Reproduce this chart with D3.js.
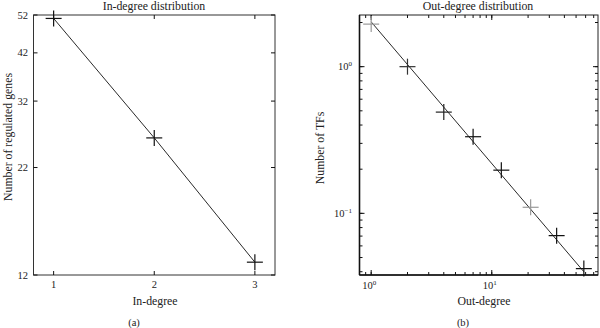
<!DOCTYPE html>
<html lang="en">
<head>
    <meta charset="UTF-8">
    <title>Degree distributions</title>
    <script src="https://d3js.org/d3.v7.min.js"></script>
    <style>
        body { margin: 0; background: #fff; }
        text { font-family: "Liberation Serif", "DejaVu Serif", serif; fill: #222; }
    </style>
</head>
<body>
</body>
<script>
    // (a) in-degree
    const inDegree = [1, 2, 3];
    const inGenes = [51, 26, 12.9];
    const inYTicks = [12, 22, 32, 42, 52];

    // (b) out-degree, log-log
    const outDegree = [1, 2, 4, 7, 12, 21, 34.5, 58];
    const outTFs = [1.95, 1.0, 0.49, 0.333, 0.197, 0.11, 0.0705, 0.042];
    const outColor = ["#999", "#333", "#222", "#111", "#111", "#999", "#111", "#111"];
    const fitX = [1, 58];
    const fitY = [2.02, 0.04];

    const W = 600, H = 328;
    const svg = d3.select("body").append("svg").attr("width", W).attr("height", H);

    function cross(g, x, y, col) {
        g.append("line").attr("x1", x - 8).attr("x2", x + 8).attr("y1", y).attr("y2", y)
            .attr("stroke", col).attr("stroke-width", 1.2);
        g.append("line").attr("x1", x).attr("x2", x).attr("y1", y - 8).attr("y2", y + 8)
            .attr("stroke", col).attr("stroke-width", 1.2);
    }

    function ticks(g, vals, scale, horiz, lo, hi, len) {
        vals.forEach(v => {
            let p = scale(v);
            if (horiz) {
                g.append("line").attr("x1", p).attr("x2", p).attr("y1", hi).attr("y2", hi - len).attr("stroke", "#111");
                g.append("line").attr("x1", p).attr("x2", p).attr("y1", lo).attr("y2", lo + len).attr("stroke", "#111");
            } else {
                g.append("line").attr("y1", p).attr("y2", p).attr("x1", lo).attr("x2", lo + len).attr("stroke", "#111");
                g.append("line").attr("y1", p).attr("y2", p).attr("x1", hi).attr("x2", hi - len).attr("stroke", "#111");
            }
        })
    }

    function minors(domain) {
        let out = [];
        for (let e = -3; e <= 3; e++) {
            for (let m = 1; m <= 9; m++) {
                let v = m * Math.pow(10, e);
                if (v >= domain[0] && v <= domain[1]) out.push(v);
            }
        }
        return out;
    }

    // ---------- panel (a)
    const ax = d3.scaleLinear().domain([0.8, 3.2]).range([33.5, 275]);
    const ay = d3.scaleLog().domain([12, 52]).range([275, 15]);
    const ga = svg.append("g");
    ga.append("rect").attr("x", 33.5).attr("y", 15).attr("width", 275 - 33.5).attr("height", 260)
        .attr("fill", "none").attr("stroke", "#333").attr("stroke-width", 1);
    ticks(ga, inDegree, ax, true, 15, 275, 4);
    ticks(ga, inYTicks, ay, false, 33.5, 275, 4);
    inDegree.forEach(d => {
        ga.append("text").attr("x", ax(d)).attr("y", 288).attr("text-anchor", "middle")
            .attr("font-size", 10.5).text(d);
    });
    inYTicks.forEach(d => {
        ga.append("text").attr("x", 28).attr("y", ay(d) + 3.5).attr("text-anchor", "end")
            .attr("font-size", 10.5).text(d);
    });
    ga.append("path").datum(inDegree.map((d, i) => [d, inGenes[i]]))
        .attr("d", d3.line().x(d => ax(d[0])).y(d => ay(d[1])))
        .attr("fill", "none").attr("stroke", "#111").attr("stroke-width", 0.9);
    inDegree.forEach((d, i) => cross(ga, ax(d), ay(inGenes[i]), "#111"));
    ga.append("text").attr("x", 154).attr("y", 10).attr("text-anchor", "middle")
        .attr("font-size", 11.8).text("In-degree distribution");
    ga.append("text").attr("x", 155).attr("y", 305).attr("text-anchor", "middle")
        .attr("font-size", 11.8).text("In-degree");
    ga.append("text").attr("x", 134).attr("y", 326).attr("text-anchor", "middle")
        .attr("font-size", 10.5).text("(a)");
    ga.append("text").attr("transform", "translate(12,137) rotate(-90)").attr("text-anchor", "middle")
        .attr("font-size", 11.8).text("Number of regulated genes");

    // ---------- panel (b)
    const bx = d3.scaleLog().domain([0.8, 76]).range([359.5, 598]);
    const by = d3.scaleLog().domain([0.038, 2.25]).range([275, 15]);
    const gb = svg.append("g");
    gb.append("rect").attr("x", 359.5).attr("y", 15).attr("width", 598 - 359.5).attr("height", 260)
        .attr("fill", "none").attr("stroke", "#222").attr("stroke-width", 1);
    gb.append("line").attr("x1", 359.5).attr("x2", 598).attr("y1", 275).attr("y2", 275)
        .attr("stroke", "#111").attr("stroke-width", 1.6);
    gb.append("line").attr("x1", 359.5).attr("x2", 359.5).attr("y1", 15).attr("y2", 275)
        .attr("stroke", "#111").attr("stroke-width", 1.6);
    ticks(gb, minors(bx.domain()), bx, true, 15, 275, 3);
    ticks(gb, [1, 10], bx, true, 15, 275, 5);
    ticks(gb, minors(by.domain()), by, false, 359.5, 598, 3);
    ticks(gb, [0.1, 1], by, false, 359.5, 598, 5);

    [[1, "0"], [10, "1"]].forEach(t => {
        let tx = gb.append("text").attr("x", bx(t[0]) - 2).attr("y", 289).attr("text-anchor", "middle")
            .attr("font-size", 10.5);
        tx.append("tspan").text("10");
        tx.append("tspan").attr("dy", -4).attr("font-size", 7).text(t[1]);
    });
    [[1, "0"], [0.1, "\u22121"]].forEach(t => {
        let tx = gb.append("text").attr("x", 352).attr("y", by(t[0]) + 3.5).attr("text-anchor", "end")
            .attr("font-size", 10.5);
        tx.append("tspan").text("10");
        tx.append("tspan").attr("dy", -4).attr("font-size", 7).text(t[1]);
    });

    gb.append("path").datum(fitX.map((d, i) => [d, fitY[i]]))
        .attr("d", d3.line().x(d => bx(d[0])).y(d => by(d[1])))
        .attr("fill", "none").attr("stroke", "#111").attr("stroke-width", 0.9);
    outDegree.forEach((d, i) => cross(gb, bx(d), by(outTFs[i]), outColor[i]));

    gb.append("text").attr("x", 478).attr("y", 10).attr("text-anchor", "middle")
        .attr("font-size", 11.8).text("Out-degree distribution");
    gb.append("text").attr("x", 484).attr("y", 305).attr("text-anchor", "middle")
        .attr("font-size", 11.8).text("Out-degree");
    gb.append("text").attr("x", 463).attr("y", 326).attr("text-anchor", "middle")
        .attr("font-size", 10.5).text("(b)");
    gb.append("text").attr("transform", "translate(324,148) rotate(-90)").attr("text-anchor", "middle")
        .attr("font-size", 11.8).text("Number of TFs");
</script>
</html>
